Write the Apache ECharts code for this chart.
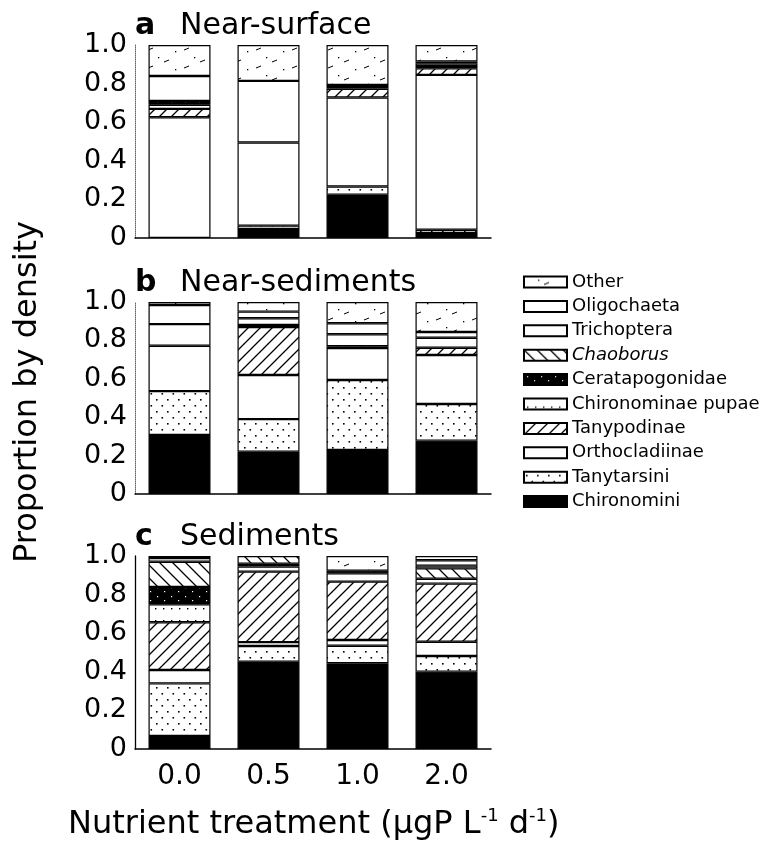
<!DOCTYPE html>
<html><head><meta charset="utf-8">
<script src="https://cdn.jsdelivr.net/npm/echarts@6/dist/echarts.min.js"></script>
<style>html,body{margin:0;padding:0;background:#fff}#c{width:775px;height:846px}</style>
</head><body><div id="c"></div>
<script>
// ---- categories / tick labels ----
const treatments = ['0.0', '0.5', '1.0', '2.0'];
const taxa = ['Chironomini', 'Tanytarsini', 'Orthocladiinae', 'Tanypodinae', 'Chironominae pupae',
              'Ceratapogonidae', 'Chaoborus', 'Trichoptera', 'Oligochaeta', 'Other'];
const yTickValues = [0, 0.2, 0.4, 0.6, 0.8, 1.0];
const panelLetters = ['a', 'b', 'c'];
const panelNames = ['Near-surface', 'Near-sediments', 'Sediments'];

// ---- (a) Near-surface: proportion per treatment 0.0, 0.5, 1.0, 2.0 ----
const surfChironomini    = [0,     0.047, 0.224, 0.026];
const surfTanytarsini    = [0,     0.017, 0.043, 0.017];
const surfOrthocladiinae = [0.626, 0.431, 0.461, 0.802];
const surfTanypodinae    = [0.043, 0,     0.045, 0.034];
const surfPupae          = [0.021, 0,     0.010, 0.012];
const surfCeratopogon    = [0.020, 0,     0,     0];
const surfChaoborus      = [0,     0,     0,     0];
const surfTrichoptera    = [0,     0,     0.010, 0.014];
const surfOligochaeta    = [0.129, 0.319, 0,     0.010];
const surfOther          = [0.161, 0.186, 0.207, 0.085];

// ---- (b) Near-sediments ----
const nearChironomini    = [0.307, 0.220, 0.229, 0.278];
const nearTanytarsini    = [0.229, 0.170, 0.365, 0.191];
const nearOrthocladiinae = [0.236, 0.230, 0.166, 0.255];
const nearTanypodinae    = [0,     0.250, 0.010, 0.038];
const nearPupae          = [0,     0.010, 0,     0];
const nearCeratopogon    = [0,     0,     0,     0];
const nearChaoborus      = [0,     0,     0,     0];
const nearTrichoptera    = [0.113, 0.035, 0.062, 0.052];
const nearOligochaeta    = [0.099, 0.035, 0.057, 0.030];
const nearOther          = [0.016, 0.050, 0.111, 0.156];

// ---- (c) Sediments ----
const sedChironomini    = [0.067, 0.452, 0.444, 0.401];
const sedTanytarsini    = [0.273, 0.082, 0.091, 0.081];
const sedOrthocladiinae = [0.069, 0.020, 0.030, 0.074];
const sedTanypodinae    = [0.248, 0.365, 0.302, 0.301];
const sedPupae          = [0.093, 0.026, 0.043, 0.025];
const sedCeratopogon    = [0.090, 0.015, 0.014, 0];
const sedChaoborus      = [0.130, 0.040, 0,     0.054];
const sedTrichoptera    = [0.020, 0,     0,     0.014];
const sedOligochaeta    = [0.010, 0,     0,     0.028];
const sedOther          = [0,     0,     0.076, 0.022];

const panelData = [
  [surfChironomini, surfTanytarsini, surfOrthocladiinae, surfTanypodinae, surfPupae,
   surfCeratopogon, surfChaoborus, surfTrichoptera, surfOligochaeta, surfOther],
  [nearChironomini, nearTanytarsini, nearOrthocladiinae, nearTanypodinae, nearPupae,
   nearCeratopogon, nearChaoborus, nearTrichoptera, nearOligochaeta, nearOther],
  [sedChironomini, sedTanytarsini, sedOrthocladiinae, sedTanypodinae, sedPupae,
   sedCeratopogon, sedChaoborus, sedTrichoptera, sedOligochaeta, sedOther]
];

// ---- fill patterns ----
function pat(w, h, bg, draw) {
  const c = document.createElement('canvas');
  c.width = w; c.height = h;
  const g = c.getContext('2d');
  g.fillStyle = bg; g.fillRect(0, 0, w, h);
  g.fillStyle = '#000'; g.strokeStyle = '#000';
  draw(g, w, h);
  return { image: c, repeat: 'repeat' };
}
function diag(g, w, h, up) {
  g.lineWidth = 1.3;
  g.beginPath();
  for (let k = -1; k <= 1; k++) {
    if (up) { g.moveTo(k * w - 1, h + 1); g.lineTo(k * w + w + 1, -1); }
    else { g.moveTo(k * w - 1, -1); g.lineTo(k * w + w + 1, h + 1); }
  }
  g.stroke();
}
const fills = {
  'Chironomini': '#000',
  'Tanytarsini': pat(11, 12, '#fff', g => { g.fillRect(2, 3, 1.6, 1.6); g.fillRect(7.5, 9, 1.6, 1.6); }),
  'Orthocladiinae': '#fff',
  'Tanypodinae': pat(12, 12, '#fff', (g, w, h) => diag(g, w, h, true)),
  'Chironominae pupae': pat(16, 12, '#fff', g => { g.fillRect(3, 8, 1.4, 1.4); g.fillRect(11, 8, 1.4, 1.4); }),
  'Ceratapogonidae': pat(14, 9, '#000', g => { g.fillStyle = '#fff'; g.fillRect(3, 2, 1.2, 1.2); g.fillRect(10, 6, 1.2, 1.2); }),
  'Chaoborus': pat(13, 13, '#fff', (g, w, h) => diag(g, w, h, false)),
  'Trichoptera': '#fff',
  'Oligochaeta': '#fff',
  'Other': pat(36, 18, '#fff', g => {
    g.lineWidth = 1;
    g.beginPath();
    g.moveTo(4, 14); g.lineTo(9, 12);
    g.moveTo(20, 8); g.lineTo(25, 6);
    g.stroke();
    g.fillRect(31, 15, 1.3, 1.3); g.fillRect(14, 3, 1.3, 1.3);
  })
};

const FONT = 'DejaVu Sans';
const gridTops = [45, 302, 556];
const gridHeights = [193, 192, 193];

const grids = gridTops.map((t, i) => ({ left: 135, top: t, width: 356, height: gridHeights[i] }));
const xAxes = gridTops.map((t, i) => ({
  type: 'category', gridIndex: i, data: treatments,
  axisTick: { show: false },
  axisLine: { show: true, lineStyle: { color: '#000', width: 1.5 } },
  axisLabel: { show: i === 2, fontFamily: FONT, fontSize: 28, color: '#000', margin: 14 }
}));
const yAxes = gridTops.map((t, i) => ({
  type: 'value', gridIndex: i, min: 0, max: 1, interval: 0.2,
  splitLine: { show: false },
  axisTick: { show: false },
  axisLine: { show: true, lineStyle: { color: i === 2 ? '#000' : '#666', width: i === 2 ? 1.3 : 1, type: i === 2 ? 'solid' : 'dotted' } },
  axisLabel: {
    fontFamily: FONT, fontSize: 27, color: '#000', margin: 8,
    formatter: v => {
      const t = yTickValues.find(x => Math.abs(x - v) < 1e-6);
      return t === 0 ? '0' : t.toFixed(1);
    }
  }
}));

const series = [];
panelData.forEach((arrs, p) => {
  arrs.forEach((vals, k) => {
    series.push({
      type: 'bar', name: taxa[k], xAxisIndex: p, yAxisIndex: p, stack: 'panel' + p,
      barWidth: 62,
      itemStyle: { color: fills[taxa[k]], borderColor: '#000', borderWidth: 1.2 },
      emphasis: { disabled: true },
      data: vals.map(v => (v === 0 ? '-' : v))
    });
  });
});

const titles = panelLetters.map((l, i) => ({
  text: '{b|' + l + '}{n|' + panelNames[i] + '}',
  left: 135, top: gridTops[i] - 34, padding: 0,
  textStyle: {
    fontWeight: 'normal',
    rich: {
      b: { fontFamily: FONT, fontWeight: 'bold', fontSize: 30, color: '#000', width: 45 },
      n: { fontFamily: FONT, fontWeight: 'normal', fontSize: 30, color: '#000' }
    }
  }
}));

const chart = echarts.init(document.getElementById('c'), null, { renderer: 'canvas' });
chart.setOption({
  animation: false,
  backgroundColor: '#fff',
  title: titles,
  grid: grids,
  xAxis: xAxes,
  yAxis: yAxes,
  legend: {
    data: taxa.slice().reverse().map(n => ({ name: n, icon: 'rect' })),
    orient: 'vertical', left: 523, top: 273, padding: 0,
    itemWidth: 43, itemHeight: 11, itemGap: 6.4,
    selectedMode: false,
    textStyle: {
      fontFamily: FONT, fontSize: 18, color: '#000', lineHeight: 18,
      rich: { i: { fontFamily: FONT, fontSize: 18, fontStyle: 'italic', color: '#000', lineHeight: 18 } }
    },
    formatter: n => (n === 'Chaoborus' ? '{i|' + n + '}' : n)
  },
  graphic: [
    {
      type: 'text', x: 28, y: 392, rotation: Math.PI / 2,
      style: { text: 'Proportion by density', font: '32px "DejaVu Sans"', fill: '#000', align: 'center', verticalAlign: 'middle' }
    },
    {
      type: 'text', x: 68, y: 825,
      style: {
        text: '{m|Nutrient treatment (μgP L}{s|-1}{m| d}{s|-1}{m|)}',
        align: 'left', verticalAlign: 'middle',
        rich: {
          m: { fontFamily: FONT, fontSize: 32, fill: '#000', color: '#000', lineHeight: 36 },
          s: { fontFamily: FONT, fontSize: 18, fill: '#000', color: '#000', verticalAlign: 'top', lineHeight: 36 }
        }
      }
    }
  ],
  series: series
});
</script>
</body></html>
